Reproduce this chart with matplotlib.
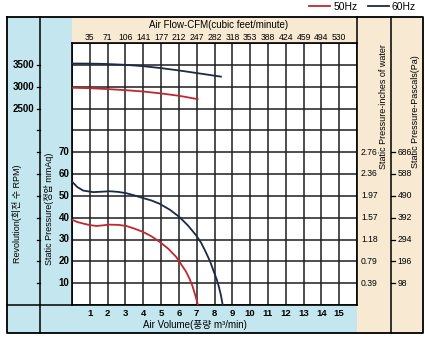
import matplotlib
matplotlib.use("Agg")
import matplotlib.pyplot as plt
from matplotlib.patches import Rectangle
from matplotlib.lines import Line2D
from matplotlib.transforms import blended_transform_factory as blend

plt.rcParams['font.family'] = ['Liberation Sans', 'Noto Sans CJK KR', 'DejaVu Sans']

# --- data ---
# static pressure curves (x: m3/min, y: mmAq)
p60_x = [0, 0.3, 0.63, 1.19, 1.7, 2.12, 2.6, 3.05, 3.5, 3.98, 4.45, 4.91, 5.5, 6.03,
         6.5, 6.96, 7.25, 7.5, 7.75, 7.96, 8.12, 8.24, 8.36, 8.46]
p60_y = [56.5, 54, 52.4, 51.7, 51.9, 52.1, 51.8, 51.2, 50.2, 49.0, 47.9, 46.4, 43.6, 40.3,
         36.5, 32.0, 28.5, 24.4, 20.0, 15.3, 11.8, 8.5, 4.5, 0]
p50_x = [0, 0.3, 0.63, 1.0, 1.38, 1.75, 2.12, 2.6, 3.05, 3.5, 3.98, 4.45, 4.91, 5.4,
         5.84, 6.1, 6.4, 6.6, 6.77, 6.92, 7.07]
p50_y = [39.1, 38.0, 37.3, 36.6, 36.2, 36.5, 36.8, 36.7, 36.2, 35.0, 33.5, 31.5, 29.0, 25.8,
         22.1, 19.0, 15.3, 12.0, 8.5, 4.5, 0]

# revolution curves (RPM)
r60_x = [0, 1, 1.9, 3, 3.98, 5, 6.03, 7.2, 8.36]
r60_y = [3530, 3528, 3520, 3500, 3470, 3425, 3370, 3300, 3230]
r50_x = [0, 1, 2, 3, 3.98, 5, 6.03, 7.05]
r50_y = [2975, 2965, 2945, 2920, 2890, 2845, 2790, 2715]

# axis labels
vol_ticks = list(range(1, 16))
cfm_labels = ["35", "71", "106", "141", "177", "212", "247", "282", "318", "353",
              "388", "424", "459", "494", "530"]
mmaq_ticks = [10, 20, 30, 40, 50, 60, 70]
inch_labels = ["0.39", "0.79", "1.18", "1.57", "1.97", "2.36", "2.76"]
pa_labels = ["98", "196", "294", "392", "490", "588", "686"]
rpm_ticks = [2500, 3000, 3500]

W, H = 425, 341
RED = "#c1272d"
NAVY = "#1b2a47"
BLUE = "#c4e6ee"
CREAM = "#f8ead2"


def fx(x):
    return x / W


def fy(y):
    return 1 - y / H


fig = plt.figure(figsize=(W / 100, H / 100), dpi=100)
fig.patch.set_facecolor("white")

# background panels
def box(x0, y0, x1, y1, color):
    fig.add_artist(Rectangle((fx(x0), fy(y1)), fx(x1) - fx(x0), fy(y0) - fy(y1),
                             transform=fig.transFigure, facecolor=color,
                             edgecolor="none", zorder=0))


box(7, 17, 72, 333, BLUE)
box(72, 305, 357, 333, BLUE)
box(72, 17, 357, 43, CREAM)
box(357, 17, 423, 333, CREAM)


def line(xs, ys, lw=1.1):
    fig.add_artist(Line2D([fx(v) for v in xs], [fy(v) for v in ys],
                          transform=fig.transFigure, color="black", lw=lw, zorder=1))


line([7, 423, 423, 7, 7], [17, 17, 333, 333, 17], lw=1.3)
line([40, 40], [17, 333])
line([391, 391], [17, 333])
line([357, 357], [17, 43])
line([7, 72], [305, 305])

# main plot
ax = fig.add_axes([fx(72), fy(305), fx(357) - fx(72), fy(43) - fy(305)])
ax.set_facecolor("white")
ax.set_xlim(0, 16)
ax.set_ylim(0, 120)
ax.set_xticks(range(0, 17))
ax.set_yticks(range(0, 121, 10))
ax.grid(True, color="#1e1e1e", lw=1.1)
ax.tick_params(length=0, labelbottom=False, labelleft=False)
for s in ax.spines.values():
    s.set_linewidth(1.2)
    s.set_color("black")

ax.plot(p50_x, p50_y, color=RED, lw=1.3, label="50Hz", zorder=3)
ax.plot(p60_x, p60_y, color=NAVY, lw=1.3, label="60Hz", zorder=3)

# RPM curves share the grid: 3500 rpm <-> 110 mmAq, 50 rpm per mmAq
ax_rpm = ax.twinx()
ax_rpm.set_ylim(3500 - 110 * 50, 3500 + 10 * 50)
ax_rpm.axis("off")
ax_rpm.plot(r50_x, r50_y, color=RED, lw=1.3, zorder=3)
ax_rpm.plot(r60_x, r60_y, color=NAVY, lw=1.3, zorder=3)

# bottom x labels
tb = blend(ax.transData, fig.transFigure)
for v in vol_ticks:
    fig.text(v, fy(313), str(v), transform=tb, ha="center", va="center",
             fontsize=6.8, fontweight="bold")
fig.text(fx(195), fy(325), "Air Volume(풍량 m³/min)", ha="center", va="center", fontsize=7)

# top CFM labels
for v, lab in zip(vol_ticks, cfm_labels):
    fig.text(v, fy(37), lab, transform=tb, ha="center", va="center", fontsize=6.2)
fig.text(fx(219), fy(25), "Air Flow-CFM(cubic feet/minute)", ha="center", va="center",
         fontsize=7)

# left mmAq labels
tl = blend(fig.transFigure, ax.transData)
for v in mmaq_ticks:
    fig.text(fx(64), v, str(v), transform=tl, ha="center", va="center",
             fontsize=7, fontweight="bold")

# left RPM labels and ticks
tr = blend(fig.transFigure, ax_rpm.transData)
for v in rpm_ticks:
    fig.text(fx(34), v, str(v), transform=tr, ha="right", va="center",
             fontsize=7, fontweight="bold")
for v in range(10, 111, 10):
    fig.add_artist(Line2D([fx(37), fx(40)], [v, v], transform=tl, color="black", lw=0.9))

# right labels
for v, a, b in zip(mmaq_ticks, inch_labels, pa_labels):
    fig.text(fx(361), v, a, transform=tl, ha="left", va="center", fontsize=6.2)
    fig.text(fx(397.5), v, b, transform=tl, ha="left", va="center", fontsize=6.2)
    fig.add_artist(Line2D([fx(391), fx(394.5)], [v, v], transform=tl, color="black", lw=0.9))

# rotated axis titles
fig.text(fx(17), fy(214), "Revolution(회전 수 RPM)", rotation=90, ha="center",
         va="center", fontsize=6.5)
fig.text(fx(49), fy(209), "Static Pressure(정압 mmAq)", rotation=90, ha="center",
         va="center", fontsize=6.5)
fig.text(fx(384), fy(107), "Static Pressure-inches of water", rotation=90, ha="center",
         va="center", fontsize=6.5)
fig.text(fx(416), fy(112), "Static Pressure-Pascals(Pa)", rotation=90, ha="center",
         va="center", fontsize=6.5)

# legend
fig.legend(loc="center right", bbox_to_anchor=(fx(416), fy(7)), ncol=2, frameon=False,
           fontsize=7.5, handlelength=2.0, handletextpad=0.3, columnspacing=1.0,
           borderaxespad=0, borderpad=0)

fig.savefig("out.png", dpi=100)
